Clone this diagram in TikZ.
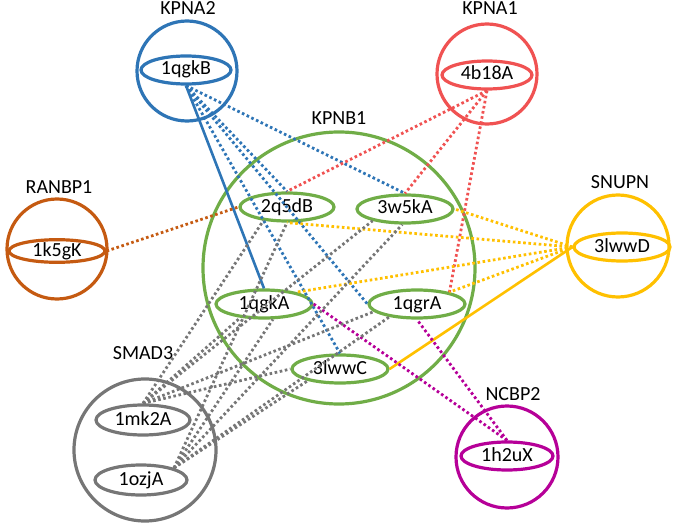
\documentclass[tikz,border=0pt]{standalone}
\usepackage{fontspec}
\setmainfont{Carlito}
\usetikzlibrary{shapes.geometric}
\definecolor{cblue}{RGB}{46,117,182}
\definecolor{cred}{RGB}{240,82,82}
\definecolor{cgreen}{RGB}{112,173,71}
\definecolor{corange}{RGB}{197,90,17}
\definecolor{cyellow}{RGB}{255,192,0}
\definecolor{cmag}{RGB}{182,0,152}
\definecolor{cgray}{RGB}{118,118,118}
\tikzset{
  grp/.style={circle,draw=#1,line width=3.2pt,inner sep=0pt},
  chain/.style={ellipse,draw=#1,line width=3.2pt,inner sep=0pt,
     minimum width=94pt,minimum height=28pt,font=\fontsize{20}{22}\selectfont,
     text height=13pt,text depth=3pt},
  glabel/.style={font=\fontsize{20}{22}\selectfont,inner sep=0pt},
  dotl/.style={draw=#1,line width=2.8pt,dash pattern=on 2.6pt off 2.6pt},
  soll/.style={draw=#1,line width=2.6pt},
}
\begin{document}
\begin{tikzpicture}[x=1pt,y=-1pt]
\useasboundingbox (0,0) rectangle (675,524);
% group circles
\node[grp=cblue,minimum size=100pt] (KPNA2) at (187,71) {};
\node[grp=cred,minimum size=100pt] (KPNA1) at (487,74) {};
\node[grp=cyellow,minimum size=102pt] (SNUPN) at (618,246) {};
\node[grp=corange,minimum size=100pt] (RANBP1) at (57,249) {};
\node[grp=cmag,minimum size=102pt] (NCBP2) at (507,457) {};
\node[grp=cgray,minimum size=142pt] (SMAD3) at (145,450) {};
\node[grp=cgreen,minimum size=272pt] (KPNB1) at (339,268) {};
% group labels
\node[glabel] (lKPNA2) at (188,8) {KPNA2};
\node[glabel] (lKPNA1) at (490,8) {KPNA1};
\node[glabel] (lSNUPN) at (620,182) {SNUPN};
\node[glabel] (lRANBP1) at (59,187) {RANBP1};
\node[glabel] (lNCBP2) at (513,394) {NCBP2};
\node[glabel] (lSMAD3) at (143,353) {SMAD3};
\node[glabel] (lKPNB1) at (339,118) {KPNB1};
% chains
\node[chain=cblue,minimum width=90pt] (qgkB) at (186,70) {1qgkB};
\node[chain=cred,minimum width=90pt] (bA) at (487,75) {4b18A};
\node[chain=cyellow,minimum width=96pt] (lwwD) at (622,247) {3lwwD};
\node[chain=corange,minimum width=96pt,minimum height=20pt] (kgK) at (57,251) {1k5gK};
\node[chain=cmag,minimum width=92pt] (huX) at (507,456) {1h2uX};
\node[chain=cgray,minimum width=94pt,minimum height=30pt] (mkA) at (143,420) {1mk2A};
\node[chain=cgray,minimum width=92pt,minimum height=30pt] (ozjA) at (141,480) {1ozjA};
\node[chain=cgreen,minimum width=94pt] (qdB) at (287,207) {2q5dB};
\node[chain=cgreen,minimum width=96pt] (wkA) at (405,209) {3w5kA};
\node[chain=cgreen,minimum width=96pt] (qgkA) at (264,304) {1qgkA};
\node[chain=cgreen,minimum width=96pt] (qgrA) at (417,304) {1qgrA};
\node[chain=cgreen,minimum width=96pt] (lwwC) at (340,369) {3lwwC};
% KPNA2 links
\draw[soll=cblue] (qgkB.south) -- (qgkA.north);
\draw[dotl=cblue] (qgkB.south) -- (qdB.north);
\draw[dotl=cblue] (qgkB.south) -- (wkA.north);
\draw[dotl=cblue] (qgkB.south) -- (qgrA.west);
\draw[dotl=cblue] (qgkB.south) -- (lwwC.north);
% KPNA1 links
\draw[dotl=cred] (bA.south) -- (qdB.north);
\draw[dotl=cred] (bA.south) -- (wkA.north);
\draw[dotl=cred] (bA.south) -- (qgrA.20);
% RANBP1 link
\draw[dotl=corange] (kgK.east) -- (qdB.west);
% SNUPN links
\draw[dotl=cyellow] (lwwD.west) -- (wkA.east);
\draw[dotl=cyellow] (lwwD.west) -- (qdB.south);
\draw[dotl=cyellow] (lwwD.west) -- (qgkA.20);
\draw[dotl=cyellow] (lwwD.west) -- (qgrA.20);
\draw[soll=cyellow] (lwwD.west) -- (lwwC.east);
% NCBP2 links
\draw[dotl=cmag] (huX.north) -- (qgkA.east);
\draw[dotl=cmag] (huX.north) -- (qgrA.south);
% SMAD3 links
\draw[dotl=cgray] (mkA.north) -- (qdB.-150);
\draw[dotl=cgray] (mkA.north) -- (wkA.-160);
\draw[dotl=cgray] (mkA.north) -- (qgkA.-150);
\draw[dotl=cgray] (mkA.north) -- (qgrA.-170);
\draw[dotl=cgray] (mkA.north) -- (lwwC.west);
\draw[dotl=cgray] (ozjA.20) -- (qdB.south);
\draw[dotl=cgray] (ozjA.20) -- (wkA.-100);
\draw[dotl=cgray] (ozjA.20) -- (qgkA.-60);
\draw[dotl=cgray] (ozjA.20) -- (qgrA.-155);
\draw[dotl=cgray] (ozjA.20) -- (lwwC.-160);
\end{tikzpicture}
\end{document}
